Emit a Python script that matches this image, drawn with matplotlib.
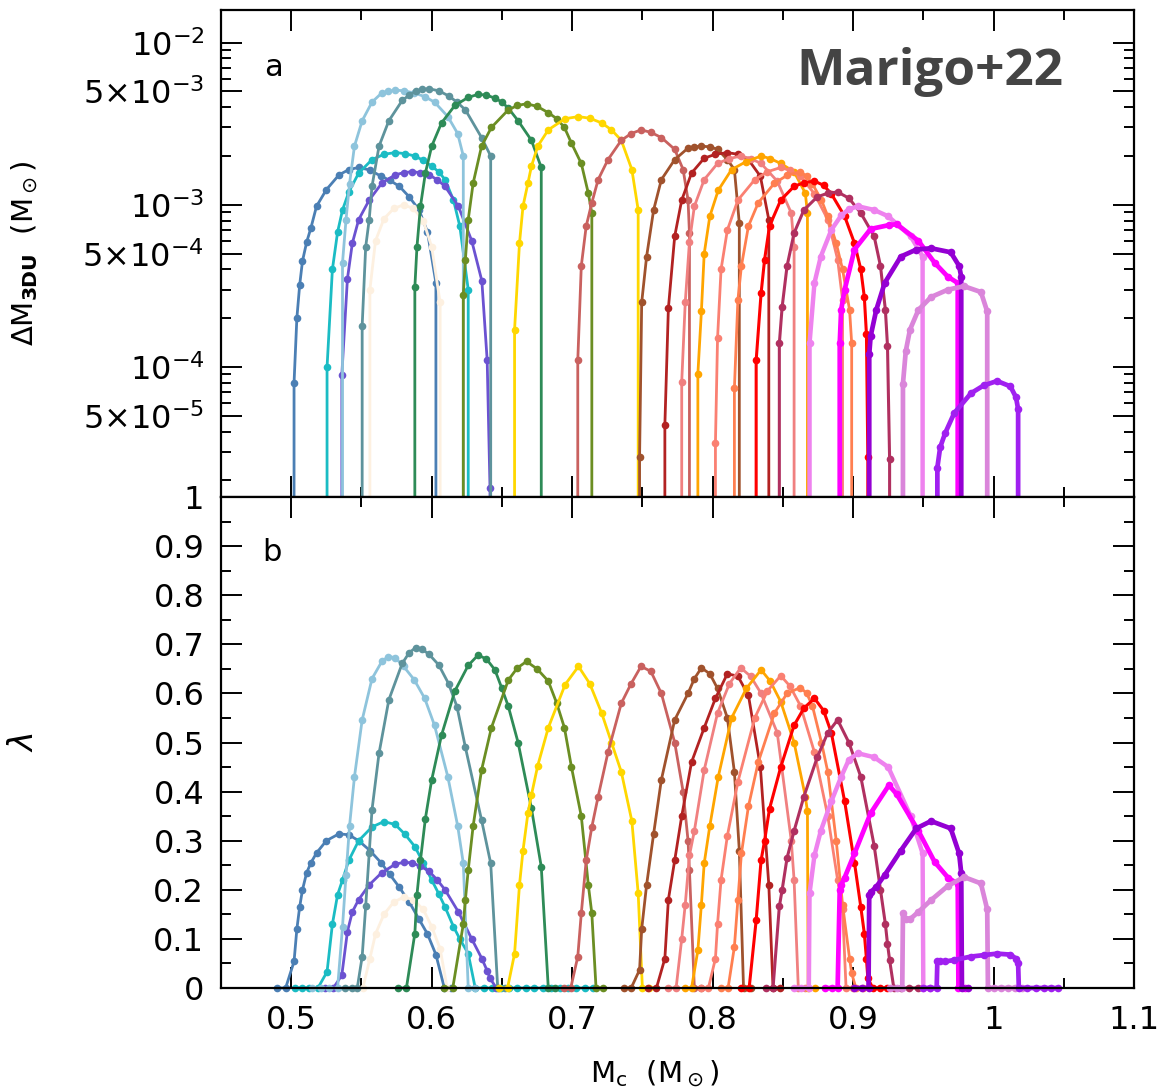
import matplotlib
matplotlib.use("Agg")
import matplotlib.pyplot as plt
from matplotlib.ticker import MultipleLocator, LogLocator, FixedLocator, FuncFormatter, NullFormatter

# Core mass (Msun), third dredge-up mass per pulse (Msun), efficiency lambda, one set per track
mc_01 = [0.490, 0.496, 0.502, 0.504, 0.506, 0.508, 0.511, 0.514, 0.518, 0.525, 0.534, 0.541, 0.548, 0.556, 0.564, 0.570, 0.577, 0.584, 0.591, 0.597, 0.603, 0.609, 0.614]
dm_01 = [0, 0, 8.0e-5, 2.0e-4, 3.2e-4, 4.5e-4, 5.9e-4, 7.2e-4, 9.8e-4, 1.24e-3, 1.53e-3, 1.65e-3, 1.70e-3, 1.64e-3, 1.50e-3, 1.42e-3, 1.30e-3, 1.12e-3, 9.3e-4, 6.8e-4, 3.3e-4, 0, 0]
lam_01 = [0, 0, 0.054, 0.12, 0.165, 0.20, 0.235, 0.255, 0.275, 0.30, 0.314, 0.312, 0.30, 0.28, 0.255, 0.232, 0.205, 0.175, 0.14, 0.11, 0.068, 0, 0]

mc_02 = [0.503, 0.508, 0.513, 0.519, 0.5255, 0.5293, 0.533, 0.5365, 0.541, 0.548, 0.5575, 0.566, 0.574, 0.581, 0.588, 0.594, 0.600, 0.605, 0.6095, 0.6155, 0.620, 0.626,
         0.631, 0.637, 0.643, 0.649, 0.655, 0.661, 0.667, 0.673, 0.679, 0.685, 0.691, 0.697, 0.703, 0.709, 0.715]
dm_02 = [0, 0, 0, 0, 1.0e-4, 4.0e-4, 6.8e-4, 9.3e-4, 1.2e-3, 1.57e-3, 1.9e-3, 2.05e-3, 2.1e-3, 2.07e-3, 2.0e-3, 1.88e-3, 1.73e-3, 1.6e-3, 1.43e-3, 1.07e-3, 7.4e-4, 3.0e-4,
         0, 0, 0, 0, 0, 0, 0, 0, 0, 0, 0, 0, 0, 0, 0]
lam_02 = [0, 0, 0, 0, 0.033, 0.13, 0.19, 0.22, 0.26, 0.30, 0.328, 0.339, 0.333, 0.313, 0.288, 0.255, 0.22, 0.192, 0.165, 0.125, 0.10, 0.07,
          0, 0, 0, 0, 0, 0, 0, 0, 0, 0, 0, 0, 0, 0, 0]

mc_03 = [0.524, 0.530, 0.536, 0.540, 0.5435, 0.548, 0.5555, 0.5645, 0.574, 0.580, 0.586, 0.592, 0.598, 0.604, 0.6095, 0.619, 0.6285, 0.6357, 0.6395, 0.6415, 0.646]
dm_03 = [0, 0, 8.9e-5, 3.5e-4, 5.8e-4, 8.1e-4, 1.07e-3, 1.36e-3, 1.53e-3, 1.58e-3, 1.6e-3, 1.58e-3, 1.53e-3, 1.43e-3, 1.3e-3, 9.8e-4, 6.0e-4, 3.4e-4, 1.1e-4, 1.8e-5, 0]
lam_03 = [0, 0, 0.026, 0.115, 0.155, 0.18, 0.21, 0.235, 0.252, 0.256, 0.255, 0.248, 0.238, 0.22, 0.20, 0.155, 0.10, 0.06, 0.035, 0.02, 0]

mc_04 = [0.546, 0.551, 0.556, 0.560, 0.566, 0.573, 0.580, 0.587, 0.594, 0.600, 0.606, 0.611]
dm_04 = [0, 0, 3.0e-4, 6.0e-4, 8.2e-4, 9.5e-4, 1.0e-3, 9.5e-4, 8.0e-4, 5.5e-4, 2.5e-4, 0]
lam_04 = [0, 0, 0.06, 0.11, 0.15, 0.175, 0.185, 0.18, 0.16, 0.125, 0.08, 0]

mc_05 = [0.515, 0.521, 0.527, 0.533, 0.5365, 0.539, 0.5415, 0.545, 0.5505, 0.5575, 0.5645, 0.569, 0.574, 0.580, 0.5875, 0.595, 0.602, 0.6115, 0.6185, 0.6225, 0.626, 0.631]
dm_05 = [0, 0, 0, 0, 4.4e-4, 8.1e-4, 1.35e-3, 2.3e-3, 3.3e-3, 4.3e-3, 4.9e-3, 5.0e-3, 5.1e-3, 5.05e-3, 4.9e-3, 4.65e-3, 4.3e-3, 3.5e-3, 2.75e-3, 2.0e-3, 0, 0]
lam_05 = [0, 0, 0, 0, 0.125, 0.23, 0.33, 0.43, 0.546, 0.63, 0.665, 0.675, 0.673, 0.655, 0.628, 0.59, 0.535, 0.43, 0.33, 0.254, 0, 0]

mc_06 = [0.538, 0.543, 0.547, 0.5505, 0.553, 0.5555, 0.5575, 0.5625, 0.5695, 0.579, 0.584, 0.5885, 0.593, 0.598, 0.605, 0.612, 0.618, 0.624, 0.6355, 0.642, 0.647, 0.652]
dm_06 = [0, 0, 0, 1.8e-4, 5.5e-4, 8.1e-4, 1.3e-3, 2.3e-3, 3.3e-3, 4.4e-3, 4.75e-3, 5.0e-3, 5.15e-3, 5.2e-3, 5.05e-3, 4.7e-3, 4.3e-3, 3.85e-3, 2.6e-3, 2.0e-3, 0, 0]
lam_06 = [0, 0, 0, 0.064, 0.166, 0.274, 0.363, 0.478, 0.587, 0.661, 0.683, 0.693, 0.69, 0.68, 0.658, 0.62, 0.573, 0.49, 0.342, 0.254, 0, 0]

mc_07 = [0.576, 0.582, 0.588, 0.5895, 0.592, 0.5955, 0.600, 0.607, 0.6165, 0.626, 0.633, 0.639, 0.645, 0.650, 0.6545, 0.6615, 0.671, 0.678, 0.683, 0.688]
dm_07 = [0, 0, 3.1e-4, 5.5e-4, 9.8e-4, 1.57e-3, 2.3e-3, 3.2e-3, 4.1e-3, 4.6e-3, 4.8e-3, 4.75e-3, 4.55e-3, 4.3e-3, 3.95e-3, 3.3e-3, 2.5e-3, 1.7e-3, 0, 0]
lam_07 = [0, 0, 0.111, 0.19, 0.26, 0.345, 0.424, 0.515, 0.605, 0.657, 0.678, 0.67, 0.648, 0.61, 0.574, 0.50, 0.366, 0.247, 0, 0]

mc_08 = [0.609, 0.615, 0.6225, 0.624, 0.626, 0.6295, 0.6355, 0.6425, 0.6545, 0.661, 0.6675, 0.675, 0.683, 0.689, 0.6945, 0.6995, 0.7065, 0.7115, 0.714, 0.717, 0.722]
dm_08 = [0, 0, 2.8e-4, 4.6e-4, 8.1e-4, 1.36e-3, 2.3e-3, 3.0e-3, 3.85e-3, 4.1e-3, 4.2e-3, 4.05e-3, 3.7e-3, 3.4e-3, 3.0e-3, 2.4e-3, 1.8e-3, 1.18e-3, 8.9e-4, 0, 0]
lam_08 = [0, 0, 0.13, 0.18, 0.24, 0.33, 0.444, 0.53, 0.627, 0.652, 0.665, 0.65, 0.625, 0.58, 0.53, 0.45, 0.35, 0.21, 0.152, 0, 0]

mc_09 = [0.648, 0.654, 0.659, 0.6625, 0.665, 0.6685, 0.671, 0.6755, 0.683, 0.695, 0.7045, 0.7125, 0.721, 0.728, 0.735, 0.7425, 0.747, 0.750, 0.755]
dm_09 = [0, 0, 1.7e-4, 5.8e-4, 9.8e-4, 1.36e-3, 1.73e-3, 2.3e-3, 2.9e-3, 3.4e-3, 3.5e-3, 3.42e-3, 3.2e-3, 2.9e-3, 2.5e-3, 1.65e-3, 9.3e-4, 0, 0]
lam_09 = [0, 0, 0.07, 0.21, 0.28, 0.356, 0.393, 0.453, 0.53, 0.618, 0.655, 0.62, 0.56, 0.50, 0.44, 0.34, 0.193, 0, 0]

mc_10 = [0.694, 0.699, 0.704, 0.7065, 0.710, 0.714, 0.7185, 0.7255, 0.735, 0.742, 0.749, 0.756, 0.7635, 0.773, 0.779, 0.7825, 0.7835, 0.787, 0.792]
dm_10 = [0, 0, 1.1e-4, 4.2e-4, 7.4e-4, 1.03e-3, 1.43e-3, 1.9e-3, 2.5e-3, 2.75e-3, 2.9e-3, 2.8e-3, 2.6e-3, 2.2e-3, 1.65e-3, 1.07e-3, 6.7e-4, 0, 0]
lam_10 = [0, 0, 0.064, 0.152, 0.26, 0.328, 0.39, 0.48, 0.58, 0.62, 0.655, 0.645, 0.60, 0.50, 0.40, 0.30, 0.24, 0, 0]

mc_11 = [0.737, 0.742, 0.748, 0.7495, 0.753, 0.758, 0.7635, 0.773, 0.7825, 0.787, 0.792, 0.798, 0.8035, 0.8105, 0.8155, 0.819, 0.822, 0.827]
dm_11 = [0, 0, 2.8e-5, 2.5e-4, 4.8e-4, 9.3e-4, 1.43e-3, 1.9e-3, 2.24e-3, 2.28e-3, 2.3e-3, 2.28e-3, 2.2e-3, 1.9e-3, 1.65e-3, 7.7e-4, 0, 0]
lam_11 = [0, 0, 0.037, 0.12, 0.21, 0.314, 0.424, 0.546, 0.60, 0.63, 0.652, 0.64, 0.61, 0.55, 0.44, 0.28, 0, 0]

mc_12 = [0.754, 0.760, 0.766, 0.7685, 0.773, 0.778, 0.785, 0.794, 0.802, 0.8105, 0.818, 0.8255, 0.834, 0.840, 0.843, 0.848]
dm_12 = [0, 0, 4.4e-5, 2.3e-4, 6.4e-4, 1.07e-3, 1.57e-3, 1.94e-3, 2.05e-3, 2.1e-3, 2.05e-3, 1.9e-3, 1.5e-3, 8.1e-4, 0, 0]
lam_12 = [0, 0, 0.06, 0.18, 0.26, 0.35, 0.46, 0.53, 0.59, 0.64, 0.635, 0.596, 0.45, 0.21, 0, 0]

mc_13 = [0.768, 0.774, 0.778, 0.7805, 0.7835, 0.787, 0.794, 0.8035, 0.812, 0.820, 0.827, 0.8345, 0.846, 0.856, 0.858, 0.861, 0.866]
dm_13 = [0, 0, 8.1e-5, 2.5e-4, 5.9e-4, 9.8e-4, 1.43e-3, 1.8e-3, 1.93e-3, 2.0e-3, 1.93e-3, 1.8e-3, 1.4e-3, 8.9e-4, 5.5e-4, 0, 0]
lam_13 = [0, 0, 0.10, 0.17, 0.27, 0.32, 0.444, 0.56, 0.62, 0.652, 0.635, 0.60, 0.52, 0.30, 0.22, 0, 0]

mc_14 = [0.780, 0.785, 0.7895, 0.792, 0.794, 0.798, 0.804, 0.8135, 0.824, 0.8345, 0.841, 0.8485, 0.858, 0.866, 0.8675, 0.868, 0.873]
dm_14 = [0, 0, 9.1e-5, 2.2e-4, 5.0e-4, 8.5e-4, 1.23e-3, 1.65e-3, 1.85e-3, 2.0e-3, 1.93e-3, 1.8e-3, 1.6e-3, 1.18e-3, 8.9e-4, 0, 0]
lam_14 = [0, 0, 0.077, 0.17, 0.254, 0.33, 0.43, 0.55, 0.61, 0.648, 0.625, 0.583, 0.50, 0.39, 0.36, 0, 0]

mc_15 = [0.792, 0.797, 0.802, 0.8035, 0.806, 0.8105, 0.818, 0.830, 0.839, 0.8485, 0.855, 0.8625, 0.8725, 0.882, 0.889, 0.8925, 0.895, 0.900]
dm_15 = [0, 0, 3.4e-5, 1.5e-4, 4.0e-4, 7.0e-4, 1.07e-3, 1.43e-3, 1.6e-3, 1.7e-3, 1.63e-3, 1.5e-3, 1.17e-3, 8.1e-4, 4.6e-4, 2.6e-4, 0, 0]
lam_15 = [0, 0, 0.06, 0.13, 0.22, 0.31, 0.42, 0.55, 0.605, 0.636, 0.615, 0.575, 0.48, 0.35, 0.22, 0.16, 0, 0]

mc_16 = [0.806, 0.811, 0.8155, 0.818, 0.8205, 0.8255, 0.8325, 0.844, 0.853, 0.8625, 0.867, 0.871, 0.8775, 0.882, 0.888, 0.8925, 0.8975, 0.899, 0.902, 0.907]
dm_16 = [0, 0, 7.4e-5, 2.6e-4, 4.2e-4, 7.4e-4, 1.03e-3, 1.36e-3, 1.52e-3, 1.6e-3, 1.5e-3, 1.35e-3, 1.07e-3, 8.5e-4, 5.8e-4, 4.0e-4, 2.25e-4, 1.4e-4, 0, 0]
lam_16 = [0, 0, 0.084, 0.18, 0.274, 0.37, 0.46, 0.56, 0.60, 0.612, 0.60, 0.575, 0.50, 0.44, 0.30, 0.17, 0.06, 0.03, 0, 0]

mc_17 = [0.820, 0.826, 0.831, 0.8345, 0.837, 0.8405, 0.8485, 0.858, 0.865, 0.8725, 0.879, 0.8845, 0.894, 0.901, 0.9055, 0.908, 0.9095, 0.9105, 0.914, 0.919, 0.924]
dm_17 = [0, 0, 1.1e-4, 2.85e-4, 4.6e-4, 7.4e-4, 1.07e-3, 1.3e-3, 1.37e-3, 1.4e-3, 1.32e-3, 1.17e-3, 8.5e-4, 5.8e-4, 4.0e-4, 2.7e-4, 1.6e-4, 2.8e-5, 0, 0, 0]
lam_17 = [0, 0, 0.138, 0.26, 0.30, 0.365, 0.45, 0.535, 0.57, 0.59, 0.565, 0.52, 0.38, 0.255, 0.165, 0.111, 0.06, 0.02, 0, 0, 0]

mc_18 = [0.838, 0.843, 0.8475, 0.8495, 0.853, 0.858, 0.865, 0.8745, 0.882, 0.889, 0.897, 0.9055, 0.915, 0.9195, 0.923, 0.9245, 0.926, 0.929, 0.934, 0.940, 0.946]
dm_18 = [0, 0, 1.4e-4, 2.35e-4, 4.2e-4, 6.7e-4, 9.3e-4, 1.12e-3, 1.18e-3, 1.2e-3, 1.1e-3, 8.9e-4, 6.4e-4, 4.2e-4, 2.25e-4, 1.35e-4, 2.7e-5, 0, 0, 0, 0]
lam_18 = [0, 0, 0.166, 0.20, 0.265, 0.32, 0.39, 0.47, 0.52, 0.546, 0.50, 0.43, 0.29, 0.20, 0.13, 0.09, 0.057, 0, 0, 0, 0]

mc_19 = [0.858, 0.863, 0.8685, 0.869, 0.8725, 0.877, 0.8845, 0.8915, 0.897, 0.9035, 0.915, 0.925, 0.941, 0.9495, 0.950, 0.955]
dm_19 = [0, 0, 0, 1.4e-4, 3.3e-4, 4.8e-4, 7.0e-4, 8.6e-4, 9.4e-4, 9.8e-4, 9.3e-4, 8.5e-4, 6.4e-4, 4.8e-4, 0, 0]
lam_19 = [0, 0, 0, 0.193, 0.27, 0.32, 0.38, 0.43, 0.465, 0.478, 0.47, 0.45, 0.35, 0.274, 0, 0]

mc_20 = [0.880, 0.885, 0.889, 0.8905, 0.8915, 0.894, 0.901, 0.9125, 0.9255, 0.931, 0.9465, 0.958, 0.9675, 0.9745, 0.975, 0.980]
dm_20 = [0, 0, 0, 1.4e-4, 2.25e-4, 3.0e-4, 5.3e-4, 7.1e-4, 7.5e-4, 7.6e-4, 6.0e-4, 4.4e-4, 3.6e-4, 3.3e-4, 0, 0]
lam_20 = [0, 0, 0, 0.20, 0.21, 0.225, 0.274, 0.356, 0.413, 0.395, 0.32, 0.257, 0.225, 0.212, 0, 0]

mc_21 = [0.901, 0.906, 0.911, 0.9115, 0.9125, 0.9165, 0.9225, 0.934, 0.945, 0.9555, 0.9695, 0.9755, 0.977, 0.9775, 0.982]
dm_21 = [0, 0, 0, 1.2e-4, 1.55e-4, 2.25e-4, 3.3e-4, 4.8e-4, 5.3e-4, 5.4e-4, 5.1e-4, 4.2e-4, 3.6e-4, 0, 0]
lam_21 = [0, 0, 0, 0.19, 0.195, 0.206, 0.23, 0.28, 0.325, 0.34, 0.325, 0.274, 0.234, 0, 0]

mc_22 = [0.926, 0.931, 0.935, 0.9355, 0.9375, 0.9405, 0.9465, 0.9555, 0.9675, 0.979, 0.991, 0.9955, 0.996, 1.000, 1.005, 1.010, 1.015, 1.020]
dm_22 = [0, 0, 0, 7.9e-5, 1.25e-4, 1.7e-4, 2.25e-4, 2.7e-4, 3.0e-4, 3.15e-4, 2.9e-4, 2.2e-4, 0, 0, 0, 0, 0, 0]
lam_22 = [0, 0, 0, 0.152, 0.14, 0.14, 0.155, 0.179, 0.208, 0.226, 0.213, 0.16, 0, 0, 0, 0, 0, 0]

mc_23 = [0.950, 0.955, 0.9595, 0.960, 0.962, 0.9655, 0.972, 0.984, 0.993, 1.0025, 1.012, 1.016, 1.0175, 1.018, 1.024, 1.030, 1.036, 1.041, 1.046]
dm_23 = [0, 0, 0, 2.4e-5, 3.2e-5, 3.9e-5, 5.2e-5, 6.9e-5, 7.7e-5, 8.2e-5, 7.6e-5, 6.5e-5, 5.5e-5, 0, 0, 0, 0, 0, 0]
lam_23 = [0, 0, 0, 0.055, 0.055, 0.054, 0.057, 0.064, 0.067, 0.07, 0.068, 0.06, 0.05, 0, 0, 0, 0, 0, 0]

tracks = [
    (mc_01, dm_01, lam_01, "#4b7fb4", 2.0),
    (mc_02, dm_02, lam_02, "#1bbcc4", 2.0),
    (mc_03, dm_03, lam_03, "#6b52d1", 2.0),
    (mc_04, dm_04, lam_04, "#fdf0e0", 2.0),
    (mc_05, dm_05, lam_05, "#8ec4dc", 2.0),
    (mc_06, dm_06, lam_06, "#5e939c", 2.0),
    (mc_07, dm_07, lam_07, "#2e8b57", 2.0),
    (mc_08, dm_08, lam_08, "#6b8e23", 2.0),
    (mc_09, dm_09, lam_09, "#ffd700", 2.0),
    (mc_10, dm_10, lam_10, "#c9615f", 2.0),
    (mc_11, dm_11, lam_11, "#a0522d", 2.0),
    (mc_12, dm_12, lam_12, "#b22222", 2.0),
    (mc_13, dm_13, lam_13, "#f08080", 2.0),
    (mc_14, dm_14, lam_14, "#ffa500", 2.0),
    (mc_15, dm_15, lam_15, "#fa8072", 2.0),
    (mc_16, dm_16, lam_16, "#ff7f50", 2.0),
    (mc_17, dm_17, lam_17, "#ff0000", 2.2),
    (mc_18, dm_18, lam_18, "#b03060", 2.2),
    (mc_19, dm_19, lam_19, "#ee82ee", 3.2),
    (mc_20, dm_20, lam_20, "#ff00ff", 3.4),
    (mc_21, dm_21, lam_21, "#9400d3", 3.4),
    (mc_22, dm_22, lam_22, "#da85da", 3.4),
    (mc_23, dm_23, lam_23, "#a020f0", 3.4),
]

plt.rcParams["font.family"] = ["DejaVu Sans"]
plt.rcParams["mathtext.fontset"] = "dejavusans"

fig = plt.figure(figsize=(11.73, 10.88), dpi=100)
ax1 = fig.add_axes([0.18841, 0.54320, 0.77835, 0.44761])
ax2 = fig.add_axes([0.18841, 0.09191, 0.77835, 0.45129], sharex=ax1)

for mc, dm, lam, col, lw in tracks:
    ax1.plot(mc, dm, "-o", color=col, lw=lw, ms=5.5, mew=0)
    ax2.plot(mc, lam, "-o", color=col, lw=lw, ms=5.5, mew=0, clip_on=False)

ax1.set_yscale("log", nonpositive="clip")
ax1.set_ylim(1.58e-5, 1.59e-2)
ax1.set_xlim(0.45, 1.1)
ax2.set_ylim(0, 1)

major_log = [5e-5, 1e-4, 5e-4, 1e-3, 5e-3, 1e-2]
major_log_labels = [r"$5{\times}10^{-5}$", r"$10^{-4}$", r"$5{\times}10^{-4}$",
                    r"$10^{-3}$", r"$5{\times}10^{-3}$", r"$10^{-2}$"]
ax1.yaxis.set_major_locator(FixedLocator(major_log))
ax1.set_yticklabels(major_log_labels)
ax1.yaxis.set_minor_locator(LogLocator(base=10, subs=(2, 3, 4, 6, 7, 8, 9), numticks=20))
ax1.yaxis.set_minor_formatter(NullFormatter())

ax2.xaxis.set_major_locator(MultipleLocator(0.1))
ax2.xaxis.set_minor_locator(MultipleLocator(0.05))
ax2.yaxis.set_major_locator(MultipleLocator(0.1))
ax2.yaxis.set_minor_locator(MultipleLocator(0.05))
fmt = FuncFormatter(lambda v, p: "%g" % round(v, 2))
ax2.xaxis.set_major_formatter(fmt)
ax2.yaxis.set_major_formatter(fmt)

for ax in (ax1, ax2):
    ax.tick_params(which="both", direction="in", top=True, right=True, width=1.4,
                   labelsize=23, pad=12)
    ax.tick_params(which="major", length=15)
    ax.tick_params(which="minor", length=7.5)
    for s in ax.spines.values():
        s.set_linewidth(1.6)
ax1.tick_params(labelbottom=False)

ax1.set_ylabel(r"$\Delta$M$_{\mathbf{3DU}}$  (M$_\odot$)", fontsize=21)
ax2.set_ylabel(r"$\lambda$", fontsize=24)
ax1.yaxis.set_label_coords(-0.198, 0.5)
ax2.yaxis.set_label_coords(-0.198, 0.5)

ax1.text(0.057, 0.881, "a", transform=ax1.transAxes, fontsize=22, ha="center", va="center")
ax2.text(0.056, 0.886, "b", transform=ax2.transAxes, fontsize=22, ha="center", va="center")

fig.text(655 / 1173, 1 - 1082 / 1088, r"M$_{\rm c}$  (M$_\odot$)", fontsize=21,
         ha="center", va="baseline")
fig.text(930 / 1173, 1 - 72 / 1088, "Marigo+22", fontsize=37, fontweight="bold",
         family=["Open Sans", "DejaVu Sans"], color="#444444", ha="center", va="center")

fig.savefig("out.png", dpi=100)
